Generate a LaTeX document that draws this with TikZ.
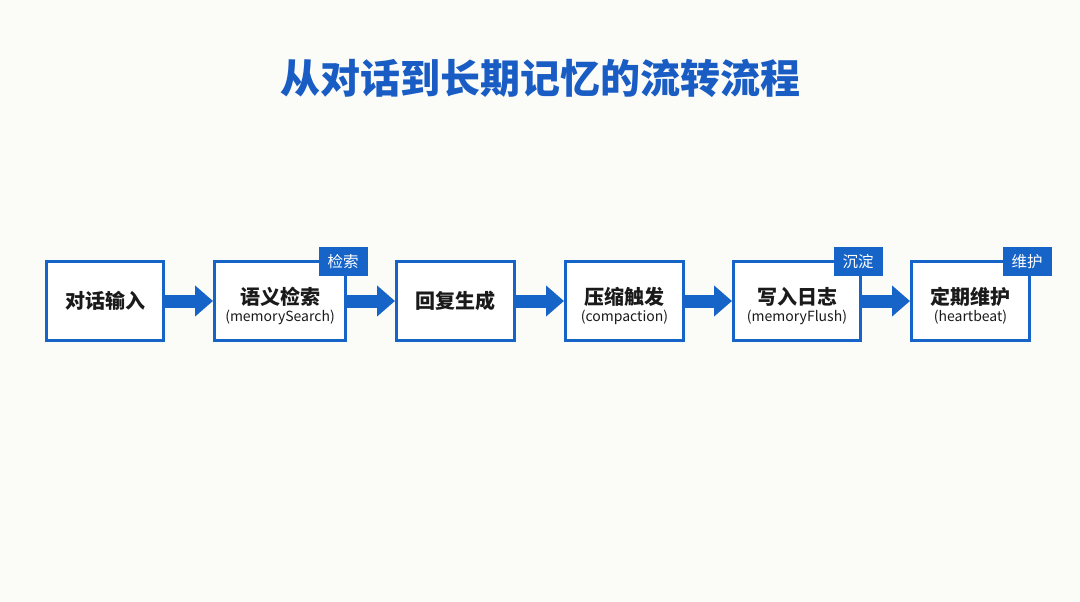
\documentclass[tikz,border=0pt]{standalone}
\usepackage{fontspec}
\usepackage{xcolor}
\usetikzlibrary{arrows.meta,positioning}
\newfontfamily\cjk{Noto Sans CJK SC}
\definecolor{flowblue}{RGB}{22,100,200}
\definecolor{titleblue}{RGB}{24,92,196}
\definecolor{bgpaper}{RGB}{251,251,248}
\definecolor{inktext}{RGB}{26,26,26}
\newcommand{\subline}[1]{{\mdseries\fontsize{14}{15}\selectfont (#1)}}

\begin{document}
\begin{tikzpicture}[x=1pt,y=-1pt,
    stage/.style={draw=flowblue, line width=3pt, fill=white, minimum height=79pt,
      inner sep=0pt, align=center, text=inktext, font=\cjk\bfseries\fontsize{20}{21}\selectfont},
    twoline/.style={draw=none, fill=none, yshift=-5pt},
    tagbox/.style={fill=flowblue, text=white, minimum width=49pt, minimum height=29pt,
      inner sep=0pt, font=\cjk\fontsize{15.5}{15.5}\selectfont},
    flow/.style={draw=flowblue, line width=13pt, -{Triangle[length=18pt,width=30pt]}}]
        \fill [bgpaper] (0,0) rectangle (1080,602);
        \useasboundingbox (0,0) rectangle (1080,602);

        \node [text=titleblue, font=\cjk\bfseries\fontsize{40}{40}\selectfont] (title) at (540,78) {从对话到长期记忆的流转流程};

        \node [stage, minimum width=117pt] (input)   at (105,301)   {对话输入};
        \node [stage, minimum width=131pt] (search)  at (280,301)   {};
        \node [stage, minimum width=118pt] (reply)   at (455.5,301) {回复生成};
        \node [stage, minimum width=118pt] (compact) at (624.5,301) {};
        \node [stage, minimum width=127pt] (flush)   at (797,301)   {};
        \node [stage, minimum width=118pt] (beat)    at (970.5,301) {};

        \node [stage, twoline] (searchtext)  at (search)  {语义检索\\[-4pt]\subline{memorySearch}};
        \node [stage, twoline] (compacttext) at (compact) {压缩触发\\[-4pt]\subline{compaction}};
        \node [stage, twoline] (flushtext)   at (flush)   {写入日志\\[-4pt]\subline{memoryFlush}};
        \node [stage, twoline] (beattext)    at (beat)    {定期维护\\[-4pt]\subline{heartbeat}};

        \node [tagbox] (searchtag) at ([xshift=-4pt,yshift=-1.5pt]search.north east) {检索};
        \node [tagbox] (flushtag)  at ([xshift=-4pt,yshift=-1.5pt]flush.north east)  {沉淀};
        \node [tagbox] (beattag)   at ([xshift=-4pt,yshift=-1.5pt]beat.north east)   {维护};

        \draw [flow] (input.east)   -- (search.west);
        \draw [flow] (search.east)  -- (reply.west);
        \draw [flow] (reply.east)   -- (compact.west);
        \draw [flow] (compact.east) -- (flush.west);
        \draw [flow] (flush.east)   -- (beat.west);
\end{tikzpicture}
\end{document}
